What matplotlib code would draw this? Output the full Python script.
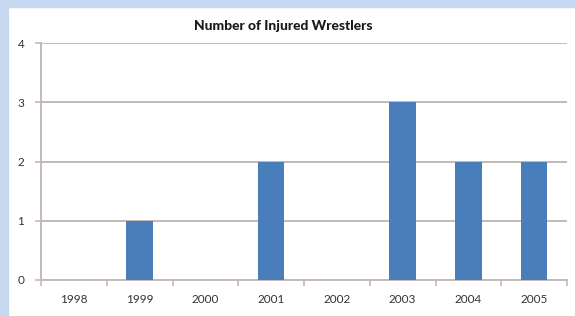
import matplotlib
matplotlib.use('Agg')
import matplotlib.pyplot as plt
from matplotlib.patches import Rectangle

years = ['1998', '1999', '2000', '2001', '2002', '2003', '2004', '2005']
injured = [0, 1, 0, 2, 0, 3, 2, 2]

W, H = 575, 316
fig = plt.figure(figsize=(W / 100, H / 100), dpi=100, facecolor='white')
plt.rcParams['font.family'] = ['Lato', 'DejaVu Sans']

# light blue frame on top and left
border = '#c6d9f1'
fig.patches.append(Rectangle((0, 1 - 7 / H), 1, 7 / H, transform=fig.transFigure,
                             color=border, zorder=0))
fig.patches.append(Rectangle((0, 0), 8 / W, 1, transform=fig.transFigure,
                             color=border, zorder=0))

ax = fig.add_axes([41 / W, 1 - 280 / H, (567 - 41) / W, (280 - 43) / H])
x = list(range(len(years)))
ax.bar(x, injured, width=0.4, color='#4a7ebb', zorder=3)

grid = '#c4b9b6'
ax.set_xlim(-0.5, len(years) - 0.5)
ax.set_ylim(0, 4)
ax.set_yticks([0, 1, 2, 3, 4])
ax.yaxis.grid(True, color=grid, linewidth=1.4, zorder=0)
ax.set_xticks(x)
ax.set_xticklabels(years)
ax.set_xticks([i - 0.5 for i in range(len(years) + 1)], minor=True)
ax.tick_params(axis='x', which='major', length=0, pad=10, labelsize=8.5, colors='#333333')
ax.tick_params(axis='x', which='minor', length=4, color=grid, width=1.2)
ax.tick_params(axis='y', length=4, color=grid, width=1.2, pad=8, labelsize=8.5, labelcolor='#333333')
for s in ['top', 'right']:
    ax.spines[s].set_visible(False)
for s in ['left', 'bottom']:
    ax.spines[s].set_color(grid)
    ax.spines[s].set_linewidth(1.4)

fig.text(0.492, 1 - 26 / H, 'Number of Injured Wrestlers', ha='center', va='center',
         fontsize=10, fontweight='black', color='#1a1a1a')

fig.savefig('out.png', dpi=100, facecolor='white')
